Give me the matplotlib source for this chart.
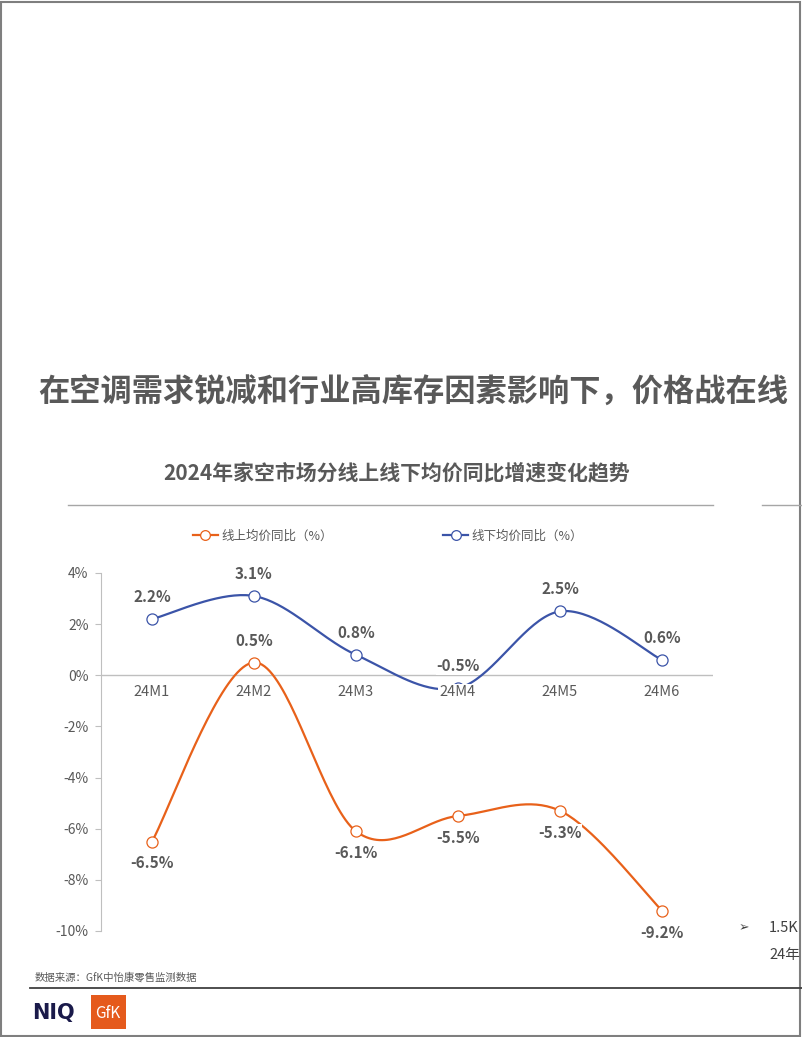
import numpy as np
import matplotlib
matplotlib.use('Agg')
import matplotlib.pyplot as plt
from matplotlib.patches import Rectangle
from matplotlib.lines import Line2D

plt.rcParams['font.family'] = ['Noto Sans CJK SC', 'DejaVu Sans']

months = ['24M1', '24M2', '24M3', '24M4', '24M5', '24M6']
online = [-6.5, 0.5, -6.1, -5.5, -5.3, -9.2]
offline = [2.2, 3.1, 0.8, -0.5, 2.5, 0.6]
online_name = '线上均价同比（%）'
offline_name = '线下均价同比（%）'
yticks = [4, 2, 0, -2, -4, -6, -8, -10]
# label above (+1) or below (-1) each point
online_side = [-1, 1, -1, -1, -1, -1]
offline_side = [1, 1, 1, 1, 1, 1]

ORANGE = '#E8611A'
BLUE = '#3B54A8'
GRAY = '#595959'


def smooth(xs, ys, n=40):
    # Catmull-Rom curve through the points, like Excel's smoothed line
    p = np.column_stack([xs, ys]).astype(float)
    p = np.vstack([p[0], p, p[-1]])
    out = []
    for i in range(1, len(p) - 2):
        p0, p1, p2, p3 = p[i - 1], p[i], p[i + 1], p[i + 2]
        t = np.linspace(0, 1, n)[:, None]
        c = 0.5 * ((2 * p1) + (-p0 + p2) * t + (2 * p0 - 5 * p1 + 4 * p2 - p3) * t ** 2
                   + (-p0 + 3 * p1 - 3 * p2 + p3) * t ** 3)
        out.append(c)
    c = np.vstack(out)
    return c[:, 0], c[:, 1]


fig = plt.figure(figsize=(8.02, 10.37), dpi=100)
W, H = 802, 1037

# page border
fig.add_artist(Rectangle((0.001, 0.001), 0.997, 0.997, transform=fig.transFigure,
                         fill=False, ec='#7F7F7F', lw=1.5))

fig.text(38 / W, 1 - 392 / H, '在空调需求锐减和行业高库存因素影响下，价格战在线',
         fontsize=22.5, fontweight='bold', color=GRAY, va='center', ha='left')
fig.text(397 / W, 1 - 473 / H, '2024年家空市场分线上线下均价同比增速变化趋势',
         fontsize=15, fontweight='bold', color=GRAY, va='center', ha='center')
fig.add_artist(Line2D([68 / W, 713 / W], [1 - 505 / H] * 2, transform=fig.transFigure,
                      color='#A6A6A6', lw=1))
fig.add_artist(Line2D([762 / W, 1.0], [1 - 505 / H] * 2, transform=fig.transFigure,
                      color='#A6A6A6', lw=1))

ax = fig.add_axes([101 / W, 1 - 931 / H, 612 / W, 358 / H])
x = np.arange(len(months))
ax.set_xlim(-0.5, len(months) - 0.5)
ax.set_ylim(-10, 4)

ax.axhline(0, color='#BFBFBF', lw=1, zorder=1)

for vals, color, name, sides in [(online, ORANGE, online_name, online_side),
                                 (offline, BLUE, offline_name, offline_side)]:
    sx, sy = smooth(x, vals)
    ax.plot(sx, sy, color=color, lw=1.6, zorder=2, solid_capstyle='round')
    ax.plot(x, vals, ls='none', marker='o', ms=8, mfc='white', mec=color, mew=0.9,
            zorder=3, label=name)
    for xi, v, s in zip(x, vals, sides):
        ax.annotate(f'{v:.1f}%', (xi, v), xytext=(0, 22 * s), textcoords='offset pixels',
                    ha='center', va='center', fontsize=11, fontweight='bold', color=GRAY,
                    bbox=dict(fc='white', ec='none', pad=0.3), zorder=5)

# category labels sit on the zero line
for xi, m in zip(x, months):
    ax.annotate(m, (xi, 0), xytext=(0, -17), textcoords='offset pixels', ha='center',
                va='center', fontsize=10.5, color=GRAY,
                bbox=dict(fc='white', ec='none', pad=1), zorder=4)

ax.set_xticks([])
ax.set_yticks(yticks)
ax.set_yticklabels([f'{t}%' for t in yticks], fontsize=10, color=GRAY)
ax.tick_params(axis='y', length=4, color='#BFBFBF', pad=5)
for sp in ['top', 'right', 'bottom']:
    ax.spines[sp].set_visible(False)
ax.spines['left'].set_color('#BFBFBF')

handles = [Line2D([], [], color=c, lw=1.6, marker='o', ms=7, mfc='white', mec=c, mew=0.9)
           for c in (ORANGE, BLUE)]
fig.legend(handles, [online_name, offline_name], loc='center',
           bbox_to_anchor=(388 / W, 1 - 536 / H), ncol=2, frameon=False, fontsize=9,
           handlelength=2, handletextpad=0.3, columnspacing=8.8, labelcolor=GRAY)

# right-hand slide remnants
fig.text(744 / W, 1 - 928 / H, '➢', fontsize=9, color='#404040', va='center', ha='center',
         family=['DejaVu Sans'])
fig.text(769 / W, 1 - 928 / H, '1.5K', fontsize=10.5, color='#404040', va='center')
fig.text(769 / W, 1 - 955 / H, '24年', fontsize=10.5, color='#404040', va='center')

# footer
fig.text(35 / W, 1 - 977 / H, '数据来源：GfK中怡康零售监测数据', fontsize=7.5, color=GRAY,
         va='center')
fig.add_artist(Line2D([30 / W, 1.0], [1 - 988 / H] * 2, transform=fig.transFigure,
                      color='#404040', lw=1.3))
fig.text(32 / W, 1 - 1013 / H, 'NIQ', fontsize=15, fontweight='bold', color='#1A1A4A',
         va='center', ha='left', family=['DejaVu Sans'])
fig.add_artist(Rectangle((91 / W, 1 - 1029 / H), 35 / W, 34 / H, transform=fig.transFigure,
                         fc='#E55A1C', ec='none'))
fig.text(108 / W, 1 - 1013 / H, 'GfK', fontsize=11, color='white', va='center', ha='center')

fig.savefig('out.png', dpi=100)
